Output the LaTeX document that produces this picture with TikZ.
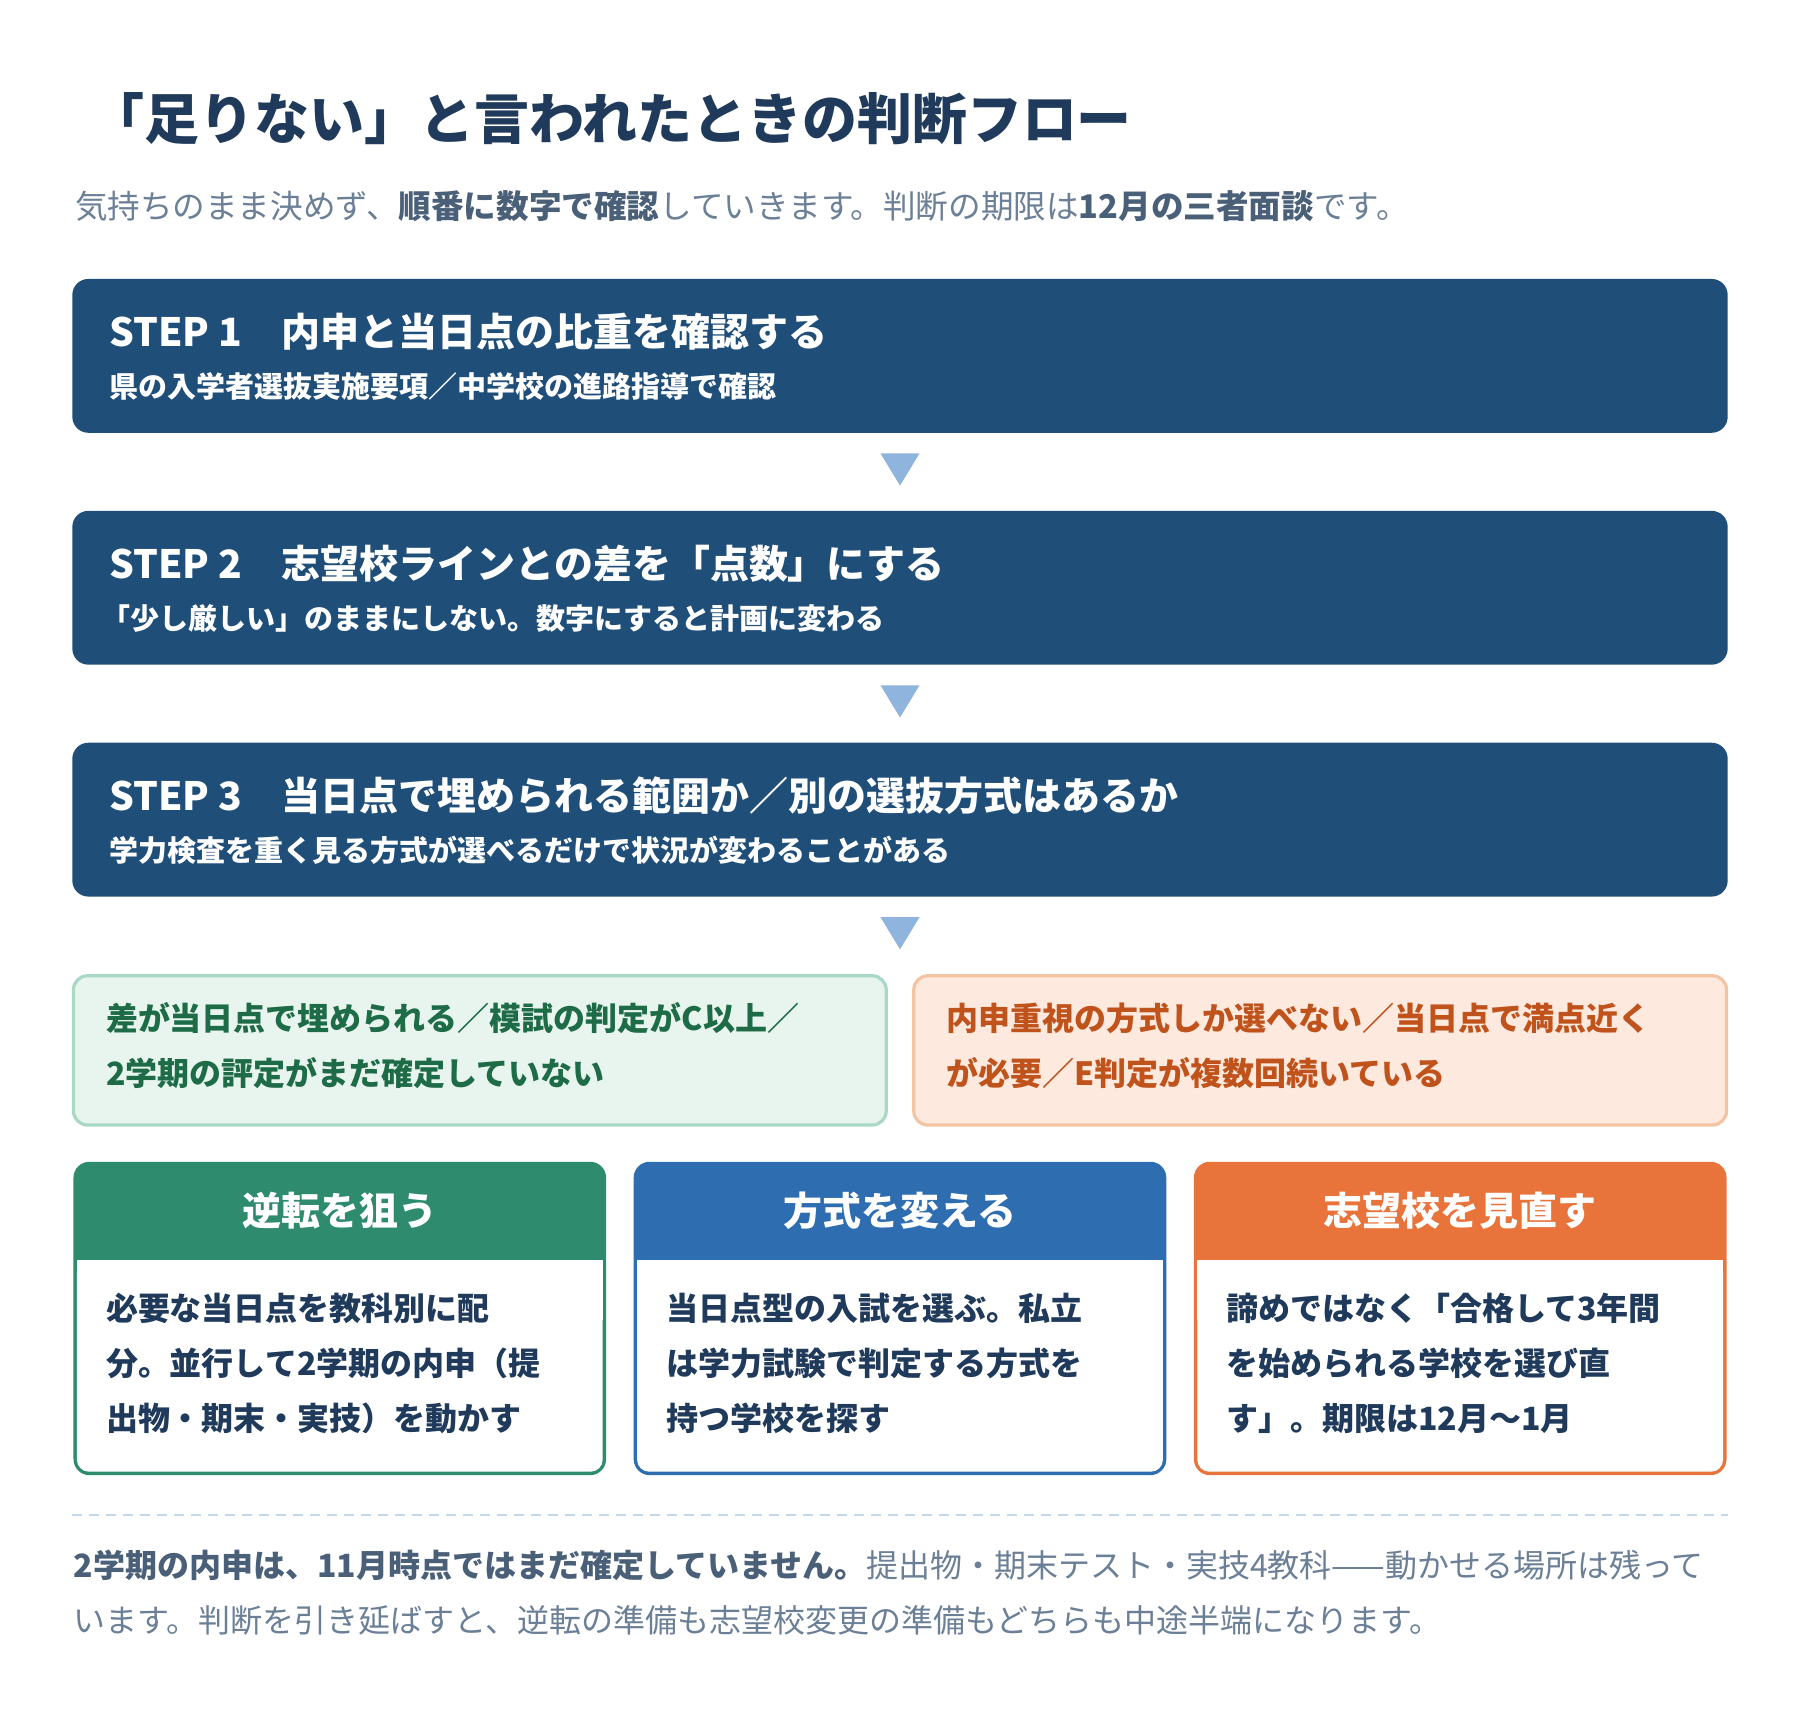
\documentclass[tikz,border=0pt]{standalone}
\usepackage{fontspec}
\setmainfont{Noto Sans CJK JP}
\definecolor{navy}{HTML}{1F4E79}
\definecolor{ink}{HTML}{1F3A5A}
\definecolor{gr}{HTML}{6B7F96}
\definecolor{grb}{HTML}{4A5F78}
\definecolor{tri}{HTML}{8FB4DD}
\definecolor{gfill}{HTML}{E8F4EE}\definecolor{gline}{HTML}{A9D8C4}\definecolor{gtext}{HTML}{1E6B48}
\definecolor{ofill}{HTML}{FDE9DE}\definecolor{oline}{HTML}{F3C4A3}\definecolor{otext}{HTML}{C0531C}
\definecolor{hg}{HTML}{2E8B6E}\definecolor{hb}{HTML}{2E6DB0}\definecolor{ho}{HTML}{E8743B}
\definecolor{dashcol}{HTML}{C5D7EA}
\begin{document}
\begin{tikzpicture}[x=0.5741pt,y=-0.5741pt,
  stepbox/.style={fill=navy,rounded corners=8pt},
  tt/.style={anchor=west,inner sep=0,text=white,font=\bfseries\fontsize{19.5}{22}\selectfont},
  ts/.style={anchor=west,inner sep=0,text=white,font=\bfseries\fontsize{14.5}{17}\selectfont},
  arr/.style={fill=tri},
  cond/.style={anchor=north west,inner sep=0,align=left,font=\bfseries\fontsize{16}{27.5}\selectfont},
  body/.style={anchor=north west,inner sep=0,align=left,text=ink,font=\bfseries\fontsize{16}{27.5}\selectfont},
  head/.style={text=white,font=\bfseries\fontsize{19.5}{22}\selectfont,inner sep=0}]
\useasboundingbox (0,0) rectangle (1568,1491);
\node[anchor=west,inner sep=0,text=ink,font=\bfseries\fontsize{27.5}{30}\selectfont] (title) at (78,103) {「足りない」と言われたときの判断フロー};
\node[anchor=west,inner sep=0,text=gr,font=\fontsize{16.3}{20}\selectfont] (sub) at (65,180) {気持ちのまま決めず、\textcolor{grb}{\bfseries 順番に数字で確認}していきます。判断の期限は\textcolor{grb}{\bfseries 12月の三者面談}です。};
% steps
\foreach \y in {243,445,647}{\fill[stepbox] (63,\y) rectangle (1505,\y+134);}
\node[tt] (s1) at (95,289) {STEP 1\quad 内申と当日点の比重を確認する};
\node[ts] (s1b) at (95,337) {県の入学者選抜実施要項／中学校の進路指導で確認};
\node[tt] (s2) at (95,491) {STEP 2\quad 志望校ラインとの差を「点数」にする};
\node[ts] (s2b) at (88,539) {「少し厳しい」のままにしない。数字にすると計画に変わる};
\node[tt] (s3) at (95,693) {STEP 3\quad 当日点で埋められる範囲か／別の選抜方式はあるか};
\node[ts] (s3b) at (95,741) {学力検査を重く見る方式が選べるだけで状況が変わることがある};
\foreach \y in {395,597,799}{\fill[arr] (767,\y) -- (801,\y) -- (784,\y+28) -- cycle;}
% conditions
\draw[fill=gfill,draw=gline,line width=1.6pt,rounded corners=7pt] (64,850) rectangle (772,980);
\draw[fill=ofill,draw=oline,line width=1.6pt,rounded corners=7pt] (796,850) rectangle (1504,980);
\node[cond,text=gtext] (c1) at (92,873) {差が当日点で埋められる／模試の判定がC以上／\\2学期の評定がまだ確定していない};
\node[cond,text=otext] (c2) at (824,873) {内申重視の方式しか選べない／当日点で満点近く\\が必要／E判定が複数回続いている};
% bottom boxes
\foreach \x/\c in {64/hg,552/hb,1040/ho}{
  \fill[\c,rounded corners=8pt] (\x,1012) rectangle (\x+464,1285);
  \fill[white,rounded corners=6pt] (\x+3,1098) rectangle (\x+461,1282);
  \fill[white] (\x+3,1098) rectangle (\x+461,1150);
}
\node[head] (h1) at (296,1055) {逆転を狙う};
\node[head] (h2) at (784,1055) {方式を変える};
\node[head] (h3) at (1272,1055) {志望校を見直す};
\node[body] (b1) at (92,1126) {必要な当日点を教科別に配\\分。並行して2学期の内申（提\\出物・期末・実技）を動かす};
\node[body] (b2) at (580,1126) {当日点型の入試を選ぶ。私立\\は学力試験で判定する方式を\\持つ学校を探す};
\node[body] (b3) at (1068,1126) {諦めではなく「合格して3年間\\を始められる学校を選び直\\す」。期限は12月〜1月};
% footer
\coordinate (dl) at (63,1320); \coordinate (dr) at (1505,1320);
\draw[dashcol,line width=1pt,dash pattern=on 5pt off 3.5pt] (dl) -- (dr);
\node[anchor=north west,inner sep=0,align=left,text=gr,font=\fontsize{16}{27.5}\selectfont] (foot) at (64,1350) {\textcolor{grb}{\bfseries 2学期の内申は、11月時点ではまだ確定していません。}提出物・期末テスト・実技4教科——動かせる場所は残って\\います。判断を引き延ばすと、逆転の準備も志望校変更の準備もどちらも中途半端になります。};
\end{tikzpicture}
\end{document}
